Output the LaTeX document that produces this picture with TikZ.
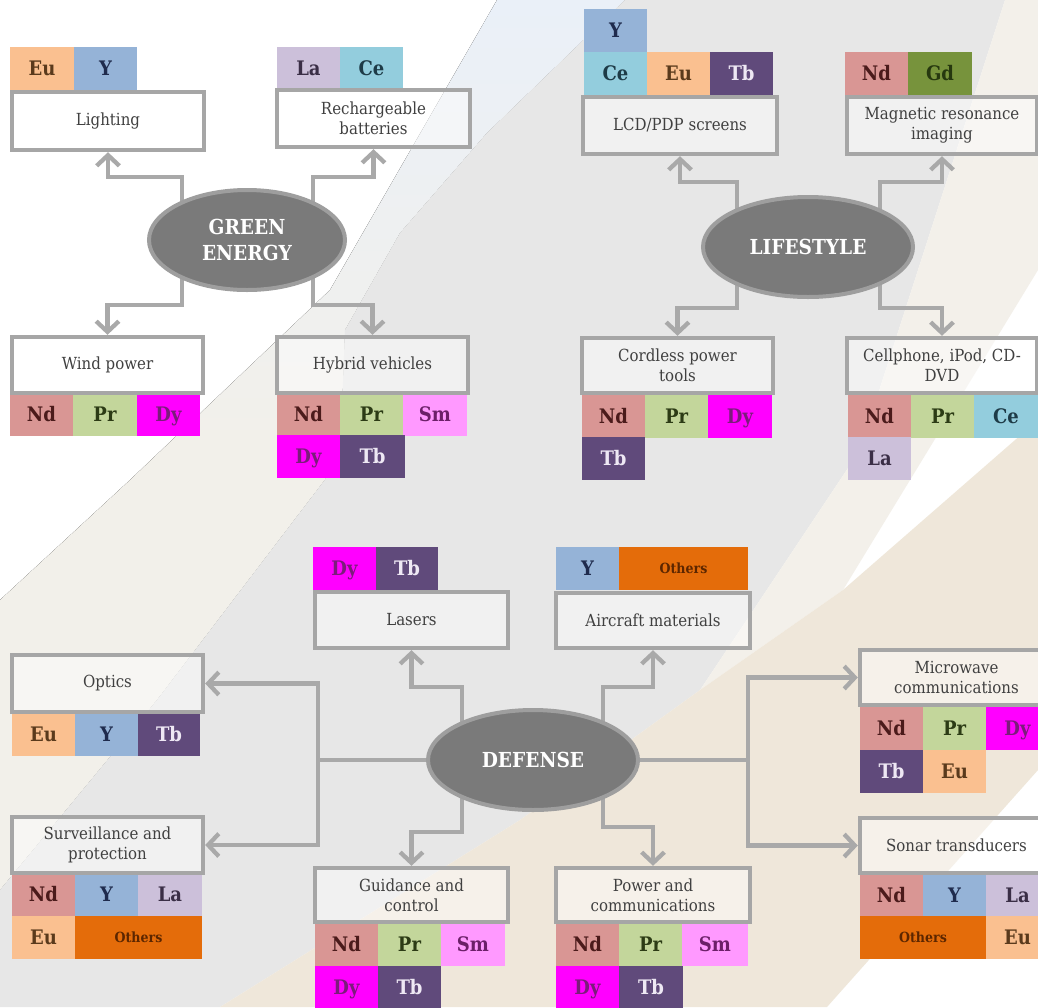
\documentclass[tikz,border=0pt]{standalone}
\usepackage{fontspec}
\setmainfont{DejaVu Serif}[FakeStretch=0.9]
\usetikzlibrary{shapes.geometric,arrows.meta,calc}
\pgfdeclarelayer{back}
\pgfdeclarelayer{conns}
\pgfsetlayers{back,conns,main}
\definecolor{cEu}{HTML}{FAC090}
\definecolor{cY}{HTML}{95B3D7}
\definecolor{cLa}{HTML}{CCC0DA}
\definecolor{cCe}{HTML}{93CDDD}
\definecolor{cNd}{HTML}{D99694}
\definecolor{cPr}{HTML}{C3D69B}
\definecolor{cDy}{HTML}{FF00FF}
\definecolor{cSm}{HTML}{FF99FF}
\definecolor{cTb}{HTML}{604A7B}
\definecolor{cGd}{HTML}{77933C}
\definecolor{cOt}{HTML}{E46C0A}
\definecolor{tEu}{HTML}{5A3A1C}
\definecolor{tY}{HTML}{1F2B4D}
\definecolor{tLa}{HTML}{3A2E46}
\definecolor{tCe}{HTML}{1E3B47}
\definecolor{tNd}{HTML}{4B1B1B}
\definecolor{tPr}{HTML}{2C3B15}
\definecolor{tDy}{HTML}{7B1C7B}
\definecolor{tSm}{HTML}{6B1F68}
\definecolor{tTb}{HTML}{EEE8F4}
\definecolor{tGd}{HTML}{26380F}
\definecolor{tOt}{HTML}{5C2600}
\definecolor{boxgray}{HTML}{A6A6A6}
\definecolor{conngray}{HTML}{A9A9A9}
\definecolor{boxtext}{HTML}{404040}
\definecolor{ellgray}{HTML}{7A7A7A}
\definecolor{ellborder}{HTML}{9E9E9E}
\definecolor{bgblue}{HTML}{EAF0F8}
\definecolor{bgcream}{HTML}{F2F0EA}
\definecolor{bggray}{HTML}{E7E7E7}
\definecolor{bgcreamb}{HTML}{F3F0EA}
\definecolor{bgbeige}{HTML}{EFE7DA}
\tikzset{
  bx/.style={draw=boxgray, line width=3.3pt, fill=white, fill opacity=0.45, text opacity=1,
    inner sep=0pt, align=center, text=boxtext, font=\fontsize{12.5}{15}\selectfont},
  cell/.style={inner sep=0pt, minimum height=32.25pt, text height=12pt, text depth=1.5pt,
    font=\bfseries\fontsize{15}{17}\selectfont},
  ell/.style={ellipse, fill=ellgray, draw=ellborder, line width=3pt, text=white, inner sep=0pt,
    align=center, font=\bfseries\fontsize{15.5}{20}\selectfont},
  conn/.style={draw=conngray, line width=3.2pt},
  arr/.style={conn, -{Straight Barb[length=8pt,width=17pt]}},
  elEu/.style={fill=cEu, text=tEu},
  elY/.style={fill=cY, text=tY},
  elLa/.style={fill=cLa, text=tLa},
  elCe/.style={fill=cCe, text=tCe},
  elNd/.style={fill=cNd, text=tNd},
  elPr/.style={fill=cPr, text=tPr},
  elDy/.style={fill=cDy, text=tDy},
  elSm/.style={fill=cSm, text=tSm},
  elTb/.style={fill=cTb, text=tTb},
  elGd/.style={fill=cGd, text=tGd},
  elOt/.style={fill=cOt, text=tOt, text height=9pt, text depth=1pt, font=\bfseries\fontsize{10.5}{12}\selectfont},
}
% #1 name, #2 style, #3 x, #4 y (top-left, px), #5 width px, #6 text
\newcommand{\cellat}[6]{\node[cell, #2, minimum width={#5*0.75pt}] (#1) at ({#3+#5/2},{#4+21.5}) {#6};}
% #1 name, #2 x1, #3 y1, #4 x2, #5 y2, #6 text
\newcommand{\boxat}[6]{\node[bx, minimum width={(#4-#2)*0.75pt}, minimum height={(#5-#3)*0.75pt}] (#1) at ({(#2+#4)/2},{(#3+#5)/2}) {#6};}
\begin{document}
\begin{tikzpicture}[x=0.75pt,y=-0.75pt]
\useasboundingbox (0,0) rectangle (1038,1007);
\begin{pgfonlayer}{back}
  \fill[white] (0,0) rectangle (1038,1007);
  \fill[top color=bgblue, bottom color=bgcream, middle color=bgcream]
    (497,0) -- (625,0) -- (487,133) -- (400,233) -- (345,330) -- (340,460) -- (157,700)
    -- (0,890) -- (0,600) -- (130,480) -- (330,290) -- cycle;
  \fill[bggray] (625,0) -- (1005,0) -- (860,450) -- (700,690) -- (520,820) -- (220,1007)
    -- (0,1007) -- (0,890) -- (157,700) -- (340,460) -- (345,330) -- (400,233) -- (487,133) -- cycle;
  \fill[bgcreamb] (1005,0) -- (1038,0) -- (1038,270) -- (843,590) -- (700,690) -- (860,450) -- cycle;
  \fill[bgbeige] (1038,420) -- (1038,770) -- (827,1007) -- (220,1007) -- (520,820) -- (700,690) -- (843,590) -- cycle;
\end{pgfonlayer}

% ---------- GREEN ENERGY ----------
\node[ell, minimum width=147pt, minimum height=75pt] (ge) at (247,240) {GREEN\\ENERGY};
\cellat{liEu}{elEu}{10}{47}{64}{Eu}
\cellat{liY}{elY}{74}{47}{63}{Y}
\cellat{rbLa}{elLa}{277}{47}{63}{La}
\cellat{rbCe}{elCe}{340}{47}{63}{Ce}
\cellat{wiNd}{elNd}{10}{393}{63}{Nd}
\cellat{wiPr}{elPr}{73}{393}{64}{Pr}
\cellat{wiDy}{elDy}{137}{393}{63}{Dy}
\cellat{hyNd}{elNd}{277}{393}{63}{Nd}
\cellat{hyPr}{elPr}{340}{393}{63}{Pr}
\cellat{hySm}{elSm}{403}{393}{64}{Sm}
\cellat{hyDy}{elDy}{277}{435}{63}{Dy}
\cellat{hyTb}{elTb}{340}{435}{65}{Tb}
\boxat{light}{12}{92}{204}{150}{Lighting}
\boxat{rb}{277}{90}{470}{147}{Rechargeable\\batteries}
\boxat{wind}{12}{337}{203}{393}{Wind power}
\boxat{hyb}{277}{337}{468}{393}{Hybrid vehicles}

% ---------- LIFESTYLE ----------
\node[ell, minimum width=157.5pt, minimum height=75pt] (ls) at (808,247) {LIFESTYLE};
\cellat{lcY}{elY}{584}{9}{63}{Y}
\cellat{lcCe}{elCe}{584}{52}{63}{Ce}
\cellat{lcEu}{elEu}{647}{52}{63}{Eu}
\cellat{lcTb}{elTb}{710}{52}{63}{Tb}
\cellat{mrNd}{elNd}{845}{52}{63}{Nd}
\cellat{mrGd}{elGd}{908}{52}{64}{Gd}
\cellat{coNd}{elNd}{582}{395}{63}{Nd}
\cellat{coPr}{elPr}{645}{395}{63}{Pr}
\cellat{coDy}{elDy}{708}{395}{64}{Dy}
\cellat{coTb}{elTb}{582}{437}{63}{Tb}
\cellat{ceNd}{elNd}{848}{395}{63}{Nd}
\cellat{cePr}{elPr}{911}{395}{63}{Pr}
\cellat{ceCe}{elCe}{974}{395}{64}{Ce}
\cellat{ceLa}{elLa}{848}{437}{63}{La}
\boxat{lcd}{583}{97}{777}{154}{LCD/PDP screens}
\boxat{mri}{847}{97}{1037}{154}{Magnetic resonance\\imaging}
\boxat{cord}{582}{338}{773}{393}{Cordless power\\tools}
\boxat{cellp}{847}{338}{1037}{393}{Cellphone, iPod, CD-\\DVD}

% ---------- DEFENSE ----------
\node[ell, minimum width=157.5pt, minimum height=75pt] (def) at (533,760) {DEFENSE};
\cellat{laDy}{elDy}{313}{547}{63}{Dy}
\cellat{laTb}{elTb}{376}{547}{62}{Tb}
\cellat{aiY}{elY}{556}{547}{63}{Y}
\cellat{aiOt}{elOt}{619}{547}{129}{Others}
\cellat{opEu}{elEu}{12}{713}{63}{Eu}
\cellat{opY}{elY}{75}{713}{63}{Y}
\cellat{opTb}{elTb}{138}{713}{62}{Tb}
\cellat{suNd}{elNd}{12}{873}{63}{Nd}
\cellat{suY}{elY}{75}{873}{63}{Y}
\cellat{suLa}{elLa}{138}{873}{64}{La}
\cellat{suEu}{elEu}{12}{916}{63}{Eu}
\cellat{suOt}{elOt}{75}{916}{127}{Others}
\cellat{guNd}{elNd}{315}{923}{63}{Nd}
\cellat{guPr}{elPr}{378}{923}{63}{Pr}
\cellat{guSm}{elSm}{441}{923}{64}{Sm}
\cellat{guDy}{elDy}{315}{966}{63}{Dy}
\cellat{guTb}{elTb}{378}{966}{63}{Tb}
\cellat{poNd}{elNd}{556}{923}{63}{Nd}
\cellat{poPr}{elPr}{619}{923}{63}{Pr}
\cellat{poSm}{elSm}{682}{923}{66}{Sm}
\cellat{poDy}{elDy}{556}{966}{63}{Dy}
\cellat{poTb}{elTb}{619}{966}{64}{Tb}
\cellat{miNd}{elNd}{860}{707}{63}{Nd}
\cellat{miPr}{elPr}{923}{707}{63}{Pr}
\cellat{miDy}{elDy}{986}{707}{63}{Dy}
\cellat{miTb}{elTb}{860}{750}{63}{Tb}
\cellat{miEu}{elEu}{923}{750}{63}{Eu}
\cellat{soNd}{elNd}{860}{874}{63}{Nd}
\cellat{soY}{elY}{923}{874}{63}{Y}
\cellat{soLa}{elLa}{986}{874}{63}{La}
\cellat{soOt}{elOt}{860}{916}{126}{Others}
\cellat{soEu}{elEu}{986}{916}{63}{Eu}
\boxat{lasers}{315}{592}{508}{648}{Lasers}
\boxat{air}{556}{593}{750}{648}{Aircraft materials}
\boxat{optics}{12}{655}{203}{712}{Optics}
\boxat{surv}{12}{817}{203}{873}{Surveillance and\\protection}
\boxat{guid}{315}{868}{508}{922}{Guidance and\\control}
\boxat{power}{556}{868}{750}{922}{Power and\\communications}
\boxat{micro}{860}{650}{1053}{705}{Microwave\\communications}
\boxat{sonar}{860}{818}{1053}{873}{Sonar transducers}

\coordinate (dl) at (318,760);
\coordinate (dr) at (748,760);

\begin{pgfonlayer}{conns}
  % green energy
  \draw[arr] ($(ge.center)+(-65,0)$) |- ($(light.south)+(0,25)$) -- (light.south);
  \draw[arr] ($(ge.center)+(66,0)$) |- ($(rb.south)+(0,28)$) -- (rb.south);
  \draw[arr] ($(ge.center)+(-65,0)$) |- ($(wind.north)+(0,-30)$) -- (wind.north);
  \draw[arr] ($(ge.center)+(66,0)$) |- ($(hyb.north)+(0,-30)$) -- (hyb.north);
  % lifestyle
  \draw[arr] ($(ls.center)+(-71,0)$) |- ($(lcd.south)+(0,26)$) -- (lcd.south);
  \draw[arr] ($(ls.center)+(72,0)$) |- ($(mri.south)+(0,26)$) -- (mri.south);
  \draw[arr] ($(ls.center)+(-71,0)$) |- ($(cord.north)+(0,-28)$) -- (cord.north);
  \draw[arr] ($(ls.center)+(72,0)$) |- ($(cellp.north)+(0,-28)$) -- (cellp.north);
  % defense
  \draw[arr] ($(def.center)+(-71,0)$) |- ($(lasers.south)+(0,37)$) -- (lasers.south);
  \draw[arr] ($(def.center)+(70,0)$) |- ($(air.south)+(0,37)$) -- (air.south);
  \draw[arr] ($(def.center)+(-71,0)$) |- ($(guid.north)+(0,-34)$) -- (guid.north);
  \draw[arr] ($(def.center)+(70,0)$) |- ($(power.north)+(0,-39)$) -- (power.north);
  \draw[conn] (def.center) -- (dl);
  \draw[arr] (dl) |- (optics.east);
  \draw[arr] (dl) |- (surv.east);
  \draw[conn] (def.center) -- (dr);
  \draw[arr] (dr) |- (micro.west);
  \draw[arr] (dr) |- (sonar.west);
\end{pgfonlayer}
\end{tikzpicture}
\end{document}
